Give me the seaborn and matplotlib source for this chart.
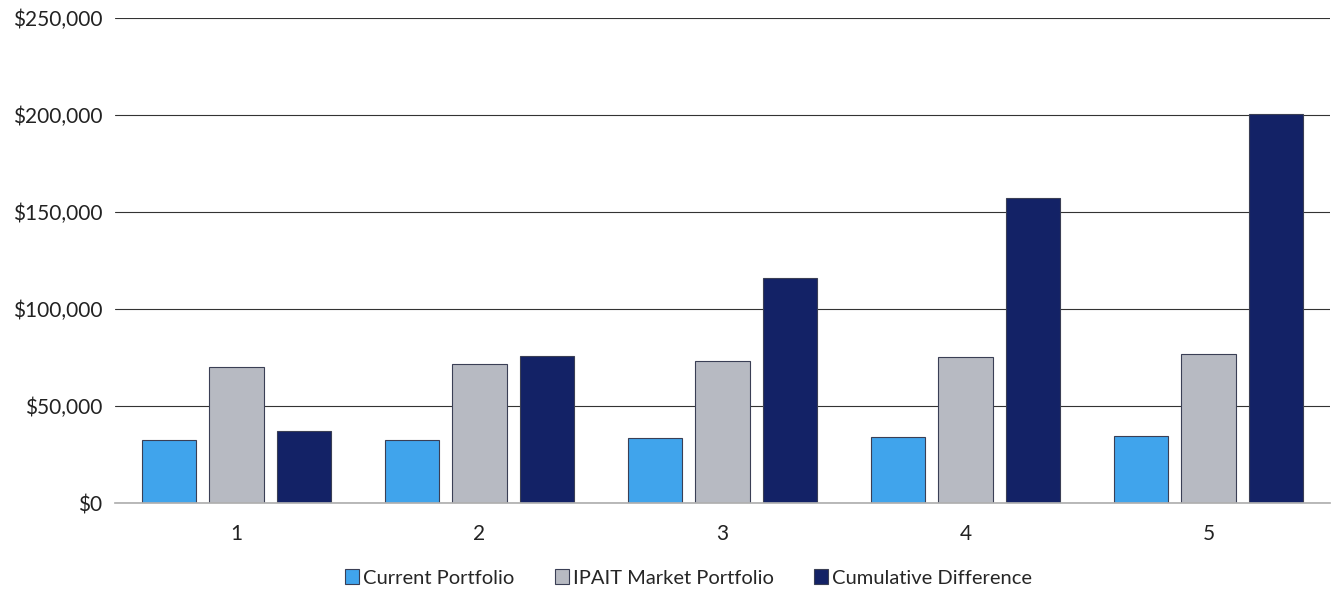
import matplotlib
matplotlib.use("Agg")
import matplotlib.pyplot as plt
import seaborn as sns
import pandas as pd
from matplotlib.ticker import FuncFormatter

years = ["1", "2", "3", "4", "5"]
series = ["Current Portfolio", "IPAIT Market Portfolio", "Cumulative Difference"]
current = [32500, 32700, 33500, 34000, 34500]
ipait = [70200, 71700, 73200, 75200, 76800]
cumulative = [37200, 75800, 116000, 157200, 200500]
colors = ["#40a4ec", "#b7bac2", "#132266"]

rows = []
for name, vals in zip(series, [current, ipait, cumulative]):
    for y, v in zip(years, vals):
        rows.append({"Year": y, "Series": name, "Value": v})
df = pd.DataFrame(rows)

sns.set_theme(style="white")
plt.rcParams["font.family"] = ["Lato", "DejaVu Sans"]

fig = plt.figure(figsize=(13.32, 5.9), dpi=100)
ax = fig.add_axes([115/1332, 1-503/590, (1330-115)/1332, (503-18)/590])

sns.barplot(data=df, x="Year", y="Value", hue="Series", palette=colors,
            saturation=1, width=0.83, gap=0.19, ax=ax, edgecolor="#3a3f55",
            linewidth=0.8, errorbar=None)

ax.set_ylim(0, 250000)
ax.set_yticks(range(0, 250001, 50000))
ax.yaxis.set_major_formatter(FuncFormatter(lambda v, p: f"${v:,.0f}"))
ax.grid(axis="y", color="#333333", linewidth=0.8)
ax.set_axisbelow(True)
for s in ["top", "right", "left"]:
    ax.spines[s].set_visible(False)
ax.spines["bottom"].set_color("#b0b0b0")
ax.set_xlabel("")
ax.set_ylabel("")
ax.tick_params(axis="both", labelsize=15, colors="#222222", length=0)
ax.tick_params(axis="y", pad=9)
ax.tick_params(axis="x", pad=15)

handles, labels = ax.get_legend_handles_labels()
ax.get_legend().remove()
fig.legend(handles, labels, loc="center", bbox_to_anchor=(0.517, 1 - 578/590),
           ncol=3, frameon=False, fontsize=14.5, handlelength=0.7, handleheight=0.7,
           handletextpad=0.2, columnspacing=2.0)

fig.savefig("out.png", dpi=100)
